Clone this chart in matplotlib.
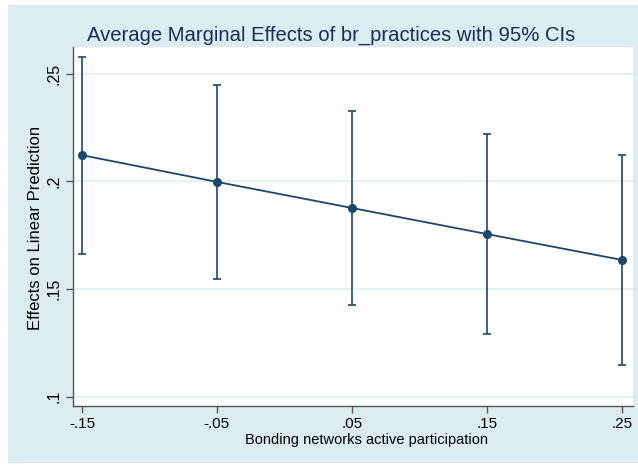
import numpy as np
import matplotlib.pyplot as plt
from matplotlib.patches import Rectangle

x_vals = [-0.15, -0.05, 0.05, 0.15, 0.25]
margin = [0.2121, 0.1997, 0.1876, 0.1755, 0.1635]
ci_low = [0.1660, 0.1548, 0.1426, 0.1291, 0.1146]
ci_high = [0.2578, 0.2446, 0.2326, 0.2219, 0.2121]

x_ticks = [-0.15, -0.05, 0.05, 0.15, 0.25]
x_labels = ["-.15", "-.05", ".05", ".15", ".25"]
y_ticks = [0.1, 0.15, 0.2, 0.25]
y_labels = [".1", ".15", ".2", ".25"]

plt.rcParams['font.family'] = ['Liberation Sans', 'DejaVu Sans']

navy = "#1a476f"
bg = "#dcedf1"
W, H = 638, 468

fig = plt.figure(figsize=(W / 100, H / 100), dpi=100)
fig.patch.set_facecolor("white")
fig.add_artist(Rectangle((8 / W, 5 / H), 1 - 8 / W, 1 - 10 / H,
                         transform=fig.transFigure, facecolor=bg,
                         edgecolor="none", zorder=-10))

ax = fig.add_axes([72.5 / W, (H - 406) / H, (632.7 - 72.5) / W, (406 - 46.7) / H])
ax.set_facecolor("white")

ax.set_xlim(-0.15704, 0.25815)
ax.set_ylim(0.09568, 0.26244)

for yt in y_ticks:
    ax.axhline(yt, color="#e3eff3", lw=1.3, zorder=0)

yerr = [np.array(margin) - np.array(ci_low), np.array(ci_high) - np.array(margin)]
ax.errorbar(x_vals, margin, yerr=yerr, fmt="none", ecolor=navy,
            elinewidth=1.2, capsize=2.9, capthick=1.2, zorder=2)
ax.plot(x_vals, margin, color=navy, lw=1.3, marker="o", ms=5.5,
        markerfacecolor=navy, markeredgecolor=navy, zorder=3)

ax.set_xticks(x_ticks)
ax.set_xticklabels(x_labels)
ax.set_yticks(y_ticks)
ax.set_yticklabels(y_labels, rotation=90, va="center")

for s in ["top", "right"]:
    ax.spines[s].set_visible(False)
for s in ["left", "bottom"]:
    ax.spines[s].set_color("#555555")
    ax.spines[s].set_linewidth(1.0)

ax.tick_params(axis="both", colors="#555555", length=5, width=1.0,
               labelsize=11, labelcolor="black", pad=3)
ax.tick_params(axis="y", labelsize=11.5)

fig.text(331.5 / W, 1 - 35 / H,
         "Average Marginal Effects of br_practices with 95% CIs",
         ha="center", va="center", fontsize=14.6, color="#1e2a5a")
fig.text(36 / W, 1 - 228 / H, "Effects on Linear Prediction",
         rotation=90, ha="center", va="center", fontsize=12)
fig.text(367 / W, 1 - 440 / H,
         "Bonding networks active participation",
         ha="center", va="center", fontsize=10.5)

fig.savefig("out.png", dpi=100)
